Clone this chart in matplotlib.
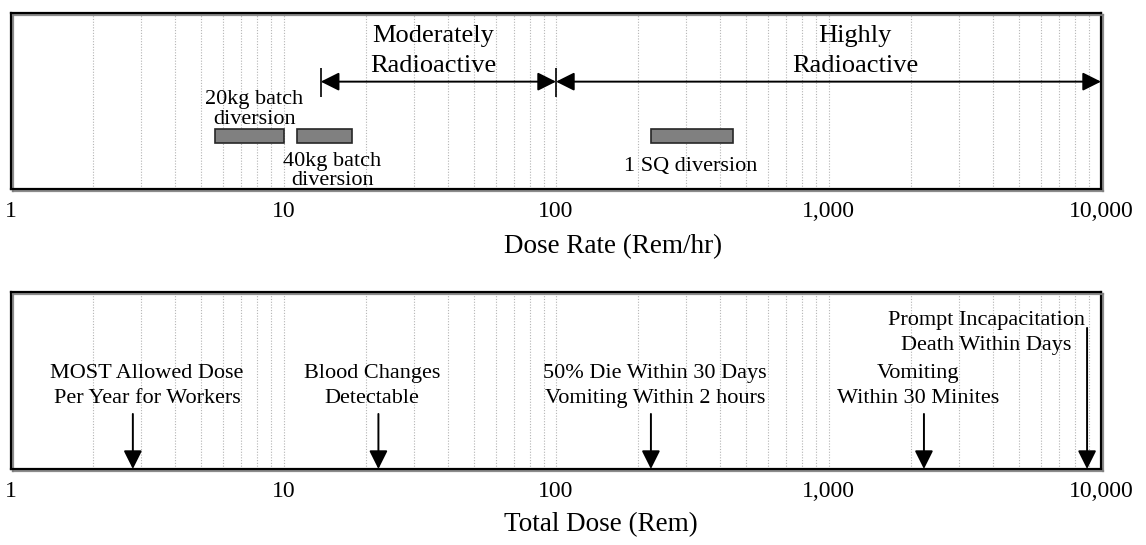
import matplotlib
matplotlib.use('Agg')
import matplotlib.pyplot as plt
import matplotlib.patheffects as pe
from matplotlib.ticker import LogLocator, FuncFormatter, NullFormatter, FixedLocator

plt.rcParams['font.family'] = ['Liberation Serif', 'DejaVu Serif']

# ---------------- data ----------------
tick_values = [1, 10, 100, 1000, 10000]
rate_title = "Dose Rate (Rem/hr)"
dose_title = "Total Dose (Rem)"

range_labels = ["Moderately\nRadioactive", "Highly\nRadioactive"]
range_start = [13.7, 100]
range_end = [100, 10000]
range_bounds = [13.7, 100]

div_labels = ["20kg batch\ndiversion", "40kg batch\ndiversion", "1 SQ diversion"]
div_low = [5.6, 11.2, 223]
div_high = [10.0, 17.8, 445]

effect_labels = ["MOST Allowed Dose\nPer Year for Workers",
                 "Blood Changes\nDetectable",
                 "50% Die Within 30 Days\nVomiting Within 2 hours",
                 "Vomiting\nWithin 30 Minites",
                 "Prompt Incapacitation\nDeath Within Days"]
effect_dose = [2.8, 22.3, 223, 2240, 8890]

# ---------------- layout ----------------
range_label_x = [35.5, 1250]
range_label_y = 78.4
range_arrow_y = 61
bound_y = (52, 69)
div_bar_y = 30
div_bar_h = 8
div_label_x = [7.8, 15.1, 312]
div_label_y = [45.2, 10.2, 12.5]
effect_label_x = [3.16, 21.1, 231, 2130, 3785]
effect_label_y = [46.9, 46.9, 46.9, 46.9, 76.8]
effect_arrow_top = [31.1, 31.1, 31.1, 31.1, 79.7]

W, H = 1146, 545
fig = plt.figure(figsize=(W / 100, H / 100), dpi=100)
ax1 = fig.add_axes([11 / W, 1 - 189 / H, 1090 / W, 176 / H])
ax2 = fig.add_axes([11 / W, 1 - 469 / H, 1090 / W, 177 / H])

for ax in (ax1, ax2):
    ax.set_xscale('log')
    ax.set_xlim(1, 10000)
    ax.set_ylim(0, 100)
    ax.xaxis.set_major_locator(FixedLocator(tick_values))
    ax.xaxis.set_major_formatter(FuncFormatter(lambda v, p: f"{v:,.0f}"))
    ax.xaxis.set_minor_locator(LogLocator(base=10, subs=range(2, 10), numticks=20))
    ax.xaxis.set_minor_formatter(NullFormatter())
    ax.tick_params(axis='x', which='both', length=0, pad=8.5, labelsize=17)
    ax.set_yticks([])
    ax.grid(True, axis='x', which='both', color='#b4b4b4', linestyle=(0, (1, 1.5)), linewidth=0.8)
    ax.set_axisbelow(True)
    for s in ax.spines.values():
        s.set_linewidth(1.6)
        s.set_color('black')
        s.set_path_effects([pe.SimpleLineShadow(offset=(1.2, -1.2), shadow_color='#808080', alpha=0.9),
                            pe.Normal()])

ahead = '<|-|>,head_length=0.8,head_width=0.4'
# top panel: ranges
for lab, x0, x1, lx in zip(range_labels, range_start, range_end, range_label_x):
    ax1.annotate('', xy=(x1, range_arrow_y), xytext=(x0, range_arrow_y),
                 arrowprops=dict(arrowstyle=ahead, color='black', lw=1.4,
                                 mutation_scale=14, shrinkA=0, shrinkB=0))
    ax1.text(lx, range_label_y, lab, ha='center', va='center', fontsize=19,
             linespacing=1.47, multialignment='center')
ax1.vlines(range_bounds, bound_y[0], bound_y[1], color='black', lw=1.2)

# top panel: diversion bars
ax1.barh([div_bar_y] * len(div_low), [h - l for l, h in zip(div_low, div_high)],
         left=div_low, height=div_bar_h, color='#808080', edgecolor='#262626', linewidth=1.2,
         zorder=3)
for lab, lx, ly in zip(div_labels, div_label_x, div_label_y):
    ax1.text(lx, ly, lab, ha='center', va='center', fontsize=16, linespacing=1.02,
             multialignment='center')

ax1.set_xlabel(rate_title, fontsize=19.5, va='center')
ax1.xaxis.set_label_coords(0.5523, -0.33)

# bottom panel: effects
for lab, d, lx, ly, top in zip(effect_labels, effect_dose, effect_label_x, effect_label_y, effect_arrow_top):
    ax2.annotate('', xy=(d, 0), xytext=(d, top),
                 arrowprops=dict(arrowstyle='-|>,head_length=0.8,head_width=0.4', color='black',
                                 lw=1.4, mutation_scale=14, shrinkA=0, shrinkB=0))
    ax2.text(lx, ly, lab, ha='center', va='center', fontsize=16, linespacing=1.46,
             multialignment='center')

ax2.set_xlabel(dose_title, fontsize=19.5, va='center')
ax2.xaxis.set_label_coords(0.5413, -0.316)

fig.savefig('out.png', dpi=100)
